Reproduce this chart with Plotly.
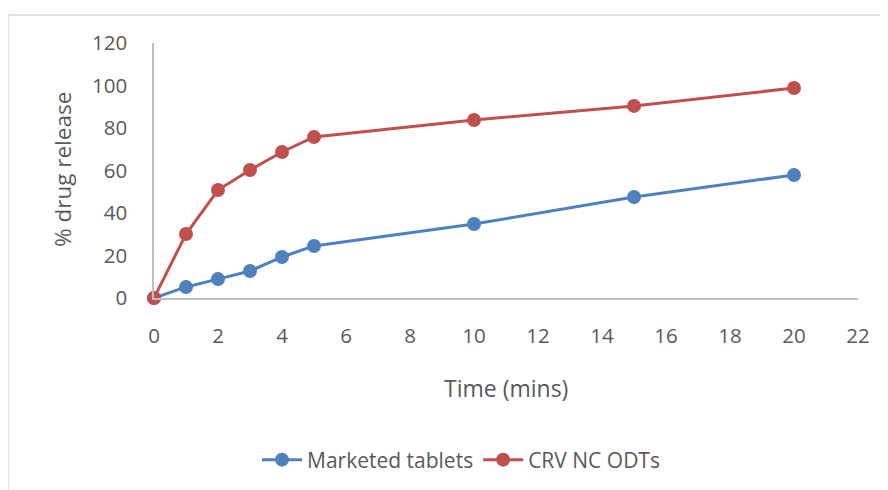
import plotly.graph_objects as go

time_mins = [0, 1, 2, 3, 4, 5, 10, 15, 20]
marketed = [0, 5.2, 8.9, 12.7, 19.3, 24.5, 34.8, 47.5, 57.9]
crv_nc = [0, 30.1, 50.8, 60.2, 68.7, 75.8, 83.8, 90.4, 98.8]
series_names = ["Marketed tablets", "CRV NC ODTs"]
x_ticks = list(range(0, 23, 2))
y_ticks = list(range(0, 121, 20))

BLUE = "#4f81bd"
RED = "#c0504d"
TXT = "#595959"
FONT = "Open Sans, sans-serif"

# page body has an 8px margin; plot-area pixel targets below are page coords
OFF = 8
L, R, T, B = 154 - OFF, 858 - OFF, 43 - OFF, 298 - OFF
W, H = 880, 482
PW, PH = R - L, B - T


def px(x):
    return (x - OFF - L) / PW


def py(y):
    return (B - (y - OFF)) / PH


fig = go.Figure()
fig.add_trace(go.Scatter(x=time_mins, y=marketed, name=series_names[0], mode="lines+markers",
                         cliponaxis=False,
                         line=dict(color=BLUE, width=3), marker=dict(size=14, color=BLUE)))
fig.add_trace(go.Scatter(x=time_mins, y=crv_nc, name=series_names[1], mode="lines+markers",
                         cliponaxis=False,
                         line=dict(color=RED, width=3), marker=dict(size=14, color=RED)))

fig.update_layout(
    width=W, height=H,
    margin=dict(l=L, r=W - R, t=T, b=H - B, autoexpand=False),
    plot_bgcolor="white", paper_bgcolor="white",
    font=dict(family=FONT, size=20, color=TXT),
    showlegend=True,
    legend=dict(orientation="h", x=px(461), xanchor="center", y=py(460), yanchor="middle",
                font=dict(size=21, color=TXT), itemwidth=40, tracegroupgap=0),
    xaxis=dict(range=[0, 22], tickvals=x_ticks, showgrid=False, zeroline=False,
               showline=True, linecolor="#bfbfbf", linewidth=1.5, ticks="",
               ticklabelstandoff=19, tickfont=dict(size=20.5, color=TXT)),
    yaxis=dict(range=[0, 120], tickvals=y_ticks, showgrid=False, zeroline=False,
               showline=True, linecolor="#bfbfbf", linewidth=1.5, ticks="",
               ticklabelstandoff=21, tickfont=dict(size=20.5, color=TXT)),
    annotations=[
        dict(text="Time (mins)", xref="paper", yref="paper", x=px(506), y=py(388),
             showarrow=False, font=dict(size=23, color=TXT), xanchor="center", yanchor="middle"),
        dict(text="% drug release", xref="paper", yref="paper", x=px(62), y=py(170),
             showarrow=False, textangle=-90, font=dict(size=22.5, color=TXT),
             xanchor="center", yanchor="middle"),
    ],
    shapes=[
        dict(type="rect", xref="paper", yref="paper",
             x0=px(8), x1=px(900), y0=py(520), y1=py(15),
             line=dict(color="#d9d9d9", width=1.5), fillcolor="rgba(0,0,0,0)", layer="below"),
    ],
)

fig.write_html("out.html")
